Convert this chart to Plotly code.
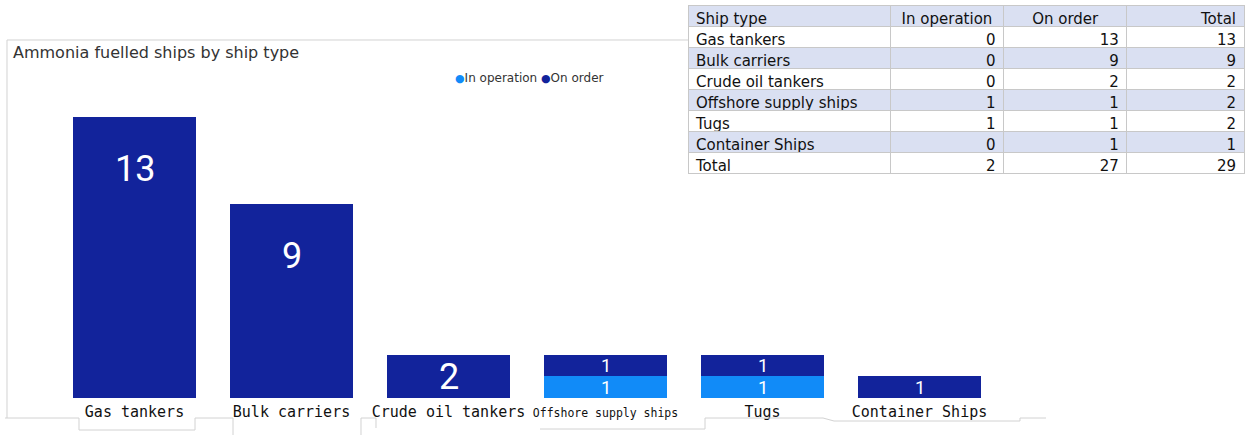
import plotly.graph_objects as go

# ---- data ----
ship_types = ["Gas tankers", "Bulk carriers", "Crude oil tankers",
              "Offshore supply ships", "Tugs", "Container Ships"]
in_operation = [0, 0, 0, 1, 1, 0]
on_order = [13, 9, 2, 1, 1, 1]
totals = [a + b for a, b in zip(in_operation, on_order)]

table_header = ["Ship type", "In operation", "On order", "Total"]

# ---- styling ----
W, H = 1247, 435
DARK = "#12239B"
LIGHT = "#118BF8"
LAVENDER = "#DAE0F2"
NUM_FONT = "Roboto, Noto Sans, sans-serif"
TICK_FONT = "DejaVu Sans Mono, Liberation Mono, monospace"
UI_FONT = "DejaVu Sans, Verdana, sans-serif"

# plot area in page pixels (margins are zero, so paper == page)
PX_LEFT, PX_RIGHT = 56, 998
PX_TOP, PX_BOTTOM = 95, 398
Y_MAX = 14.03


def px_x(x):
    return x / W


def px_y(y):
    return 1 - y / H


px_per_unit = (PX_BOTTOM - PX_TOP) / Y_MAX

fig = go.Figure()

fig.add_trace(go.Bar(x=ship_types, y=in_operation, name="In operation",
                     marker=dict(color=LIGHT, line=dict(width=0)),
                     showlegend=False, hoverinfo="x+y+name"))
fig.add_trace(go.Bar(x=ship_types, y=on_order, name="On order",
                     marker=dict(color=DARK, line=dict(width=0)),
                     showlegend=False, hoverinfo="x+y+name"))

# value labels inside each stacked segment
annotations = []
for i, cat in enumerate(ship_types):
    base = 0
    for vals in (in_operation, on_order):
        v = vals[i]
        if v > 0:
            seg_px = v * px_per_unit
            shift = min(seg_px / 2, 52)
            size = min(36, seg_px * 0.85)
            annotations.append(dict(
                x=cat, y=base + v, xref="x", yref="y",
                text=str(v), showarrow=False, yanchor="middle",
                yshift=-shift, borderpad=0,
                height=min(44, int(seg_px) - 2),
                font=dict(family=NUM_FONT, size=size, color="white")))
        base += v

# title and legend
annotations.append(dict(
    x=px_x(11), y=px_y(53), xref="paper", yref="paper",
    xanchor="left", yanchor="middle", showarrow=False,
    text="Ammonia fuelled ships by ship type",
    font=dict(family=UI_FONT, size=16, color="#333333")))
annotations.append(dict(
    x=px_x(453), y=px_y(78), xref="paper", yref="paper",
    xanchor="left", yanchor="middle", showarrow=False,
    text=(f'<span style="color:{LIGHT};font-size:11px">●</span>In operation '
          f'<span style="color:{DARK};font-size:11px">●</span>On order'),
    font=dict(family=UI_FONT, size=12, color="#333333")))

# summary table
cells = [ship_types + ["Total"],
         in_operation + [sum(in_operation)],
         on_order + [sum(on_order)],
         totals + [sum(totals)]]
row_fill = ["white" if k % 2 == 0 else LAVENDER for k in range(len(ship_types) + 1)]
fig.add_trace(go.Table(
    domain=dict(x=[px_x(688), px_x(1244)], y=[px_y(176), px_y(5)]),
    columnwidth=[202, 113, 123, 117],
    header=dict(values=table_header, fill_color=LAVENDER,
                line=dict(color="#C8C8C8", width=1),
                align=["left", "center", "center", "right"],
                font=dict(family=UI_FONT, size=15, color="#111111"), height=21),
    cells=dict(values=cells, fill_color=[row_fill] * 4,
               line=dict(color="#C8C8C8", width=1),
               align=["left", "right", "right", "right"],
               font=dict(family=UI_FONT, size=15, color="#111111"), height=21),
))

# thin frame and stepped separator lines around the category labels
frame_paths = [
    [(7, 418), (7, 40), (688, 40)],
    [(5, 418), (79, 418), (79, 430), (195, 430), (195, 418), (233, 418), (233, 435)],
    [(361, 435), (361, 418), (376, 418), (376, 428)],
    [(540, 429), (705, 429), (705, 418), (823, 418), (834, 421), (1020, 421),
     (1020, 418), (1046, 418)],
]
shapes = []
for pts in frame_paths:
    path = "M " + " L ".join(f"{px_x(x):.5f},{px_y(y):.5f}" for x, y in pts)
    shapes.append(dict(type="path", path=path, xref="paper", yref="paper",
                       line=dict(color="#D2D2D2", width=1)))

tick_text = [f'<span style="font-size:11.5px">{t}</span>' if len(t) > 18 else t
             for t in ship_types]

fig.update_layout(
    width=W, height=H,
    margin=dict(l=0, r=0, t=0, b=0),
    paper_bgcolor="white", plot_bgcolor="white",
    barmode="stack", bargap=0.22,
    showlegend=False,
    annotations=annotations,
    shapes=shapes,
    xaxis=dict(domain=[px_x(PX_LEFT), px_x(PX_RIGHT)], type="category",
               tickvals=ship_types, ticktext=tick_text,
               showgrid=False, showline=False, zeroline=False, ticks="",
               ticklabelstandoff=3,
               tickfont=dict(family=TICK_FONT, size=15, color="#111111")),
    yaxis=dict(domain=[px_y(PX_BOTTOM), px_y(PX_TOP)], range=[0, Y_MAX],
               visible=False, showgrid=False),
)

fig.write_html("out.html")
